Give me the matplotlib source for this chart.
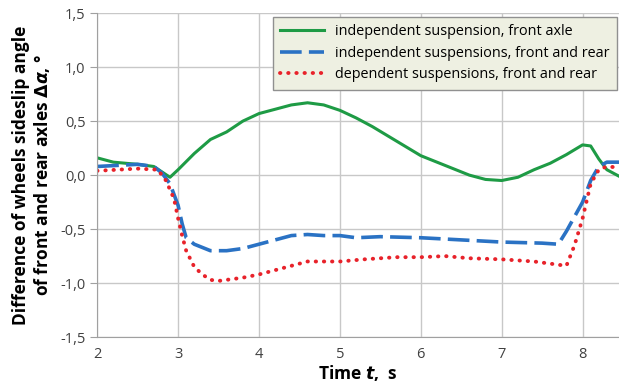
import numpy as np
import matplotlib.pyplot as plt

plt.rcParams['font.family'] = ['Open Sans', 'DejaVu Sans']
plt.rcParams['mathtext.fontset'] = 'custom'
plt.rcParams['mathtext.it'] = 'DejaVu Sans:bold:italic'
plt.rcParams['mathtext.rm'] = 'DejaVu Sans:bold'

# values
t_green = [2.0, 2.2, 2.5, 2.7, 2.8, 2.9, 3.0, 3.2, 3.4, 3.6, 3.8, 4.0, 4.2, 4.4, 4.6,
           4.8, 5.0, 5.2, 5.4, 5.6, 5.8, 6.0, 6.2, 6.4, 6.6, 6.8, 7.0, 7.2, 7.4, 7.6,
           7.8, 8.0, 8.1, 8.2, 8.3, 8.45]
green = [0.16, 0.12, 0.10, 0.08, 0.03, -0.02, 0.05, 0.20, 0.33, 0.40, 0.50, 0.57, 0.61,
         0.65, 0.67, 0.65, 0.60, 0.53, 0.45, 0.36, 0.27, 0.18, 0.12, 0.06, 0.0, -0.04,
         -0.05, -0.02, 0.05, 0.11, 0.19, 0.28, 0.27, 0.15, 0.05, -0.01]

t_blue = [2.0, 2.5, 2.7, 2.8, 2.9, 3.0, 3.05, 3.1, 3.2, 3.4, 3.6, 3.8, 4.0, 4.2, 4.4,
          4.6, 4.8, 5.0, 5.2, 5.5, 6.0, 6.5, 7.0, 7.5, 7.7, 7.8, 8.0, 8.1, 8.2, 8.3, 8.45]
blue = [0.08, 0.10, 0.08, 0.02, -0.08, -0.28, -0.45, -0.58, -0.64, -0.70, -0.70, -0.68,
        -0.64, -0.60, -0.56, -0.55, -0.56, -0.56, -0.58, -0.57, -0.58, -0.60, -0.62,
        -0.63, -0.64, -0.52, -0.25, -0.05, 0.08, 0.12, 0.12]

t_red = [2.0, 2.5, 2.75, 2.85, 2.95, 3.0, 3.05, 3.1, 3.2, 3.3, 3.4, 3.5, 3.6, 3.8, 4.0,
         4.2, 4.4, 4.6, 4.8, 5.0, 5.3, 5.7, 6.0, 6.3, 6.6, 7.0, 7.4, 7.7, 7.8, 7.9, 8.0,
         8.1, 8.2, 8.3, 8.45]
red = [0.04, 0.06, 0.05, -0.05, -0.22, -0.40, -0.56, -0.70, -0.85, -0.92, -0.97, -0.98,
       -0.97, -0.95, -0.92, -0.88, -0.84, -0.80, -0.80, -0.80, -0.78, -0.76, -0.76, -0.75,
       -0.77, -0.78, -0.80, -0.83, -0.84, -0.65, -0.40, -0.08, 0.05, 0.08, 0.07]

fig = plt.figure(figsize=(6.19, 3.87), dpi=100)
ax = fig.add_axes([0.157, 0.129, 0.843, 0.837])

ax.plot(t_green, green, color='#1e9b45', lw=2.2,
        label='independent suspension, front axle')
ax.plot(t_blue, blue, color='#2a72c4', lw=2.6, dashes=(6, 2),
        label='independent suspensions, front and rear')
ax.plot(t_red, red, color='#e8222a', lw=2.8, ls=(0, (0.1, 2.0)), dash_capstyle='round',
        label='dependent suspensions, front and rear')

ax.set_xlim(2, 8.45)
ax.set_ylim(-1.5, 1.5)
ax.set_xticks([2, 3, 4, 5, 6, 7, 8])
yt = np.arange(-1.5, 1.51, 0.5)
ax.set_yticks(yt)
ax.set_yticklabels([('%.1f' % v).replace('.', ',') for v in yt])
ax.grid(True, color='#c8c8c8', lw=1)
ax.set_axisbelow(True)
for s in ['top', 'right']:
    ax.spines[s].set_visible(False)
for s in ['left', 'bottom']:
    ax.spines[s].set_color('#a0a0a0')
ax.tick_params(axis='y', colors='#a0a0a0', labelcolor='#404040', labelsize=10.5, length=5)
ax.tick_params(axis='x', length=0, labelcolor='#404040', labelsize=10.5, pad=7)

ax.set_xlabel(r'Time $t$,  s', fontsize=12.5, fontweight='bold', labelpad=1)
ax.set_ylabel('Difference of wheels sideslip angle\n' + r'of front and rear axles $\Delta\alpha$, °',
              fontsize=12.5, fontweight='bold', labelpad=6, linespacing=1.1)

leg = ax.legend(loc='upper right', bbox_to_anchor=(1.01, 1.01), fontsize=10.4,
                fancybox=False, framealpha=1, facecolor='#eef0e2', edgecolor='#909090',
                handlelength=3.0, borderpad=0.5, labelspacing=0.45)
leg.get_frame().set_linewidth(1)

fig.savefig('out.png', dpi=100)
